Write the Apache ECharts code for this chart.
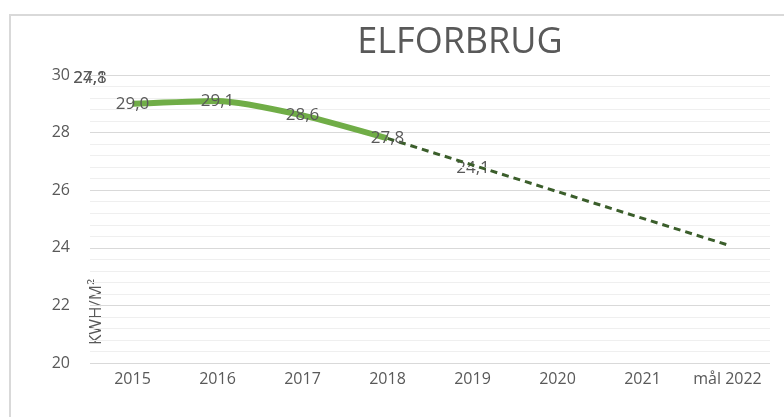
<!DOCTYPE html>
<html>
<head>
<meta charset="utf-8">
<script src="https://cdn.jsdelivr.net/npm/echarts@6/dist/echarts.min.js"></script>
<style>
  html, body { margin: 0; padding: 0; background: #fff; }
  #chart { width: 784px; height: 417px; }
</style>
</head>
<body>
<div id="chart"></div>
<script>
// data
var categories = ['2015', '2016', '2017', '2018', '2019', '2020', '2021', 'mål 2022'];
var actual = [29.0, 29.1, 28.6, 27.8, null, null, null, null];
var target = [null, null, null, 27.8, null, null, null, 24.1];
var yTicks = [20, 22, 24, 26, 28, 30];

var grey = '#595959';
var font = 'Open Sans';

let chart = echarts.init(document.getElementById('chart'));

function comma(v) {
	return v.toFixed(1).replace('.', ',');
}

let option = {
	animation: false,
	title: {
		text: 'ELFORBRUG',
		left: 455,
		top: 20,
		textAlign: 'center',
		textStyle: { fontFamily: font, fontSize: 36, fontWeight: 'normal', color: grey }
	},
	grid: { left: 90, right: 14, top: 75, bottom: 54 },
	xAxis: {
		type: 'category',
		data: categories,
		axisLine: { show: false },
		axisTick: { show: false },
		axisLabel: { color: grey, fontFamily: font, fontSize: 16, margin: 8, interval: 0 }
	},
	yAxis: {
		type: 'value',
		min: yTicks[0],
		max: yTicks[yTicks.length - 1],
		interval: 2,
		axisLine: { show: false },
		axisTick: { show: false },
		axisLabel: { color: grey, fontFamily: font, fontSize: 16, margin: 20 },
		splitLine: { lineStyle: { color: '#d9d9d9', width: 1 } },
		minorTick: { show: false, splitNumber: 5 },
		minorSplitLine: { show: true, lineStyle: { color: '#efefef', width: 1 } }
	},
	series: [{
		name: 'actual',
		type: 'line',
		data: actual,
		smooth: 0.2,
		symbol: 'circle',
		symbolSize: 2,
		showSymbol: true,
		showAllSymbol: true,
		itemStyle: { color: 'rgba(112,173,71,0)', borderWidth: 0 },
		lineStyle: { color: '#70ad47', width: 6 },
		label: {
			show: true,
			position: 'inside',
			color: grey,
			fontFamily: font,
			fontSize: 17,
			formatter: function (p) { return comma(p.value); }
		},
		z: 3
	}, {
		name: 'target',
		type: 'line',
		data: target,
		connectNulls: true,
		symbol: 'none',
		lineStyle: { color: '#3b5e2b', width: 3, type: [7, 5] },
		z: 2
	}],
	graphic: [{
		type: 'rect',
		shape: { x: 10, y: 15, width: 800, height: 420 },
		style: { fill: 'none', stroke: '#d9d9d9', lineWidth: 2 },
		silent: true
	}, {
		// stray labels of the target line, as in the original
		type: 'text',
		x: 90, y: 78,
		style: { text: comma(target[3]), fill: grey, font: '17px "Open Sans"', align: 'center', verticalAlign: 'middle' }
	}, {
		type: 'text',
		x: 90, y: 78,
		style: { text: comma(target[7]), fill: grey, font: '17px "Open Sans"', align: 'center', verticalAlign: 'middle' }
	}, {
		type: 'text',
		x: 473, y: 168,
		style: { text: comma(target[7]), fill: grey, font: '17px "Open Sans"', align: 'center', verticalAlign: 'middle' }
	}, {
		type: 'text',
		x: 96, y: 312,
		rotation: Math.PI / 2,
		style: { text: 'KWH/M²', fill: grey, font: '17px "Open Sans"', align: 'center', verticalAlign: 'middle' }
	}]
};

chart.setOption(option);
</script>
</body>
</html>
